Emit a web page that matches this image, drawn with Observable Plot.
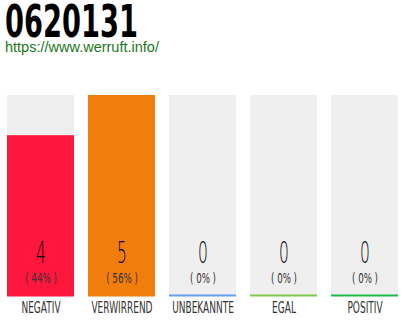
<!DOCTYPE html>
<html><head><meta charset="utf-8">
<script src="https://cdn.jsdelivr.net/npm/d3@7"></script>
<script src="https://cdn.jsdelivr.net/npm/@observablehq/plot@0.6"></script>
<style>
body{margin:0;background:#fff;width:410px;height:320px;overflow:hidden}
#title{position:absolute;left:5px;top:4px;font-family:"DejaVu Sans",sans-serif;font-weight:bold;font-size:44px;color:#000;line-height:36px;height:36px;transform:scaleX(0.62);transform-origin:0 0;white-space:nowrap}
#url{position:absolute;left:5px;top:40px;font-family:"Liberation Sans",Arial,sans-serif;font-size:14.5px;color:#217821;line-height:15px}
#chart{position:absolute;left:0;top:60px}
</style></head>
<body>
<div id="title">0620131</div>
<div id="url">https://www.werruft.info/</div>
<div id="chart"></div>
<script>
const categories = ["NEGATIV","VERWIRREND","UNBEKANNTE","EGAL","POSITIV"];
const counts = [4,5,0,0,0];
const percents = ["( 44% )","( 56% )","( 0% )","( 0% )","( 0% )"];
const colors = ["#ff163d","#f07d0c","#5f9ef2","#7cca4c","#1bbb48"];
const maxValue = 5;

const data = categories.map((c,i)=>({cat:c,count:counts[i],pct:percents[i],color:colors[i]}));
const font = '"DejaVu Sans",sans-serif';

const chart = Plot.plot({
  width:410, height:260,
  marginTop:35, marginBottom:24, marginLeft:5, marginRight:9,
  x:{domain:categories, paddingInner:0.1707, paddingOuter:0, axis:null},
  y:{domain:[0,maxValue], axis:null},
  marks:[
    Plot.barY(data,{x:"cat", y:()=>maxValue, fill:"#efefef"}),
    Plot.barY(data,{x:"cat", y:"count", fill:"color"}),
    Plot.tickY(data,{x:"cat", y:()=>0, stroke:"color", strokeWidth:2, dy:-1}),
    Plot.text(data,{x:"cat", y:()=>0, text:d=>String(d.count), dy:-43, fontSize:31, fill:"#000", fontFamily:font, fontWeight:200, className:"big"}),
    Plot.text(data,{x:"cat", y:()=>0, text:"pct", dy:-18, fontSize:14, fill:"#333", fontFamily:font, className:"pct"}),
    Plot.text(data,{x:"cat", y:()=>0, text:"cat", dy:12, fontSize:15, fill:"#333", fontFamily:font, className:"lab"})
  ]
});
// condense the text glyphs horizontally
function condense(sel, k){
  d3.select(chart).selectAll(sel + " text").each(function(){
    const t = this.getAttribute("transform");
    if (t) this.setAttribute("transform", t + ` scale(${k},1)`);
    else {
      const x = +this.getAttribute("x") || 0, y = +this.getAttribute("y") || 0;
      this.removeAttribute("x"); this.removeAttribute("y");
      this.setAttribute("transform", `translate(${x},${y}) scale(${k},1)`);
    }
  });
}
condense(".big", 0.5);
condense(".pct", 0.62);
condense(".lab", 0.6);
document.getElementById("chart").appendChild(chart);
</script>
</body></html>
